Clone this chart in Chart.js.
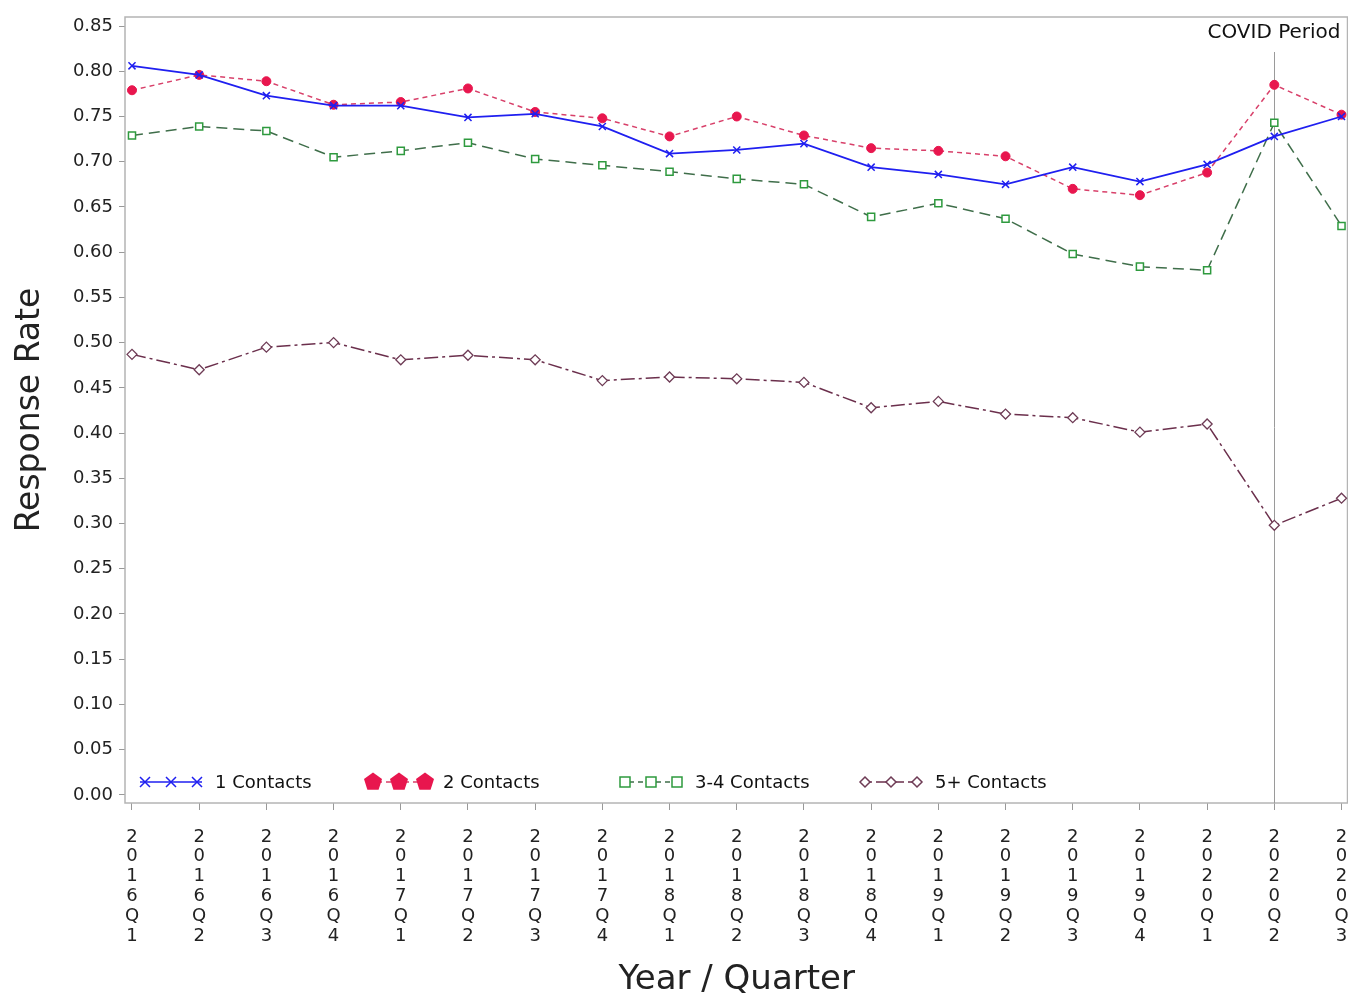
<!DOCTYPE html>
<html>
<head>
<meta charset="utf-8">
<script src="https://cdn.jsdelivr.net/npm/chart.js@4.4.1/dist/chart.umd.min.js"></script>
<style>
  html, body { margin: 0; padding: 0; background: #fff; overflow: hidden; }
  #wrap { width: 1355px; height: 997px; }
  canvas { display: block; }
</style>
</head>
<body>
<div id="wrap"><canvas id="rateChart" width="1355" height="997"></canvas></div>
<script>
// quarters on the x axis
const quarters = ['2016Q1','2016Q2','2016Q3','2016Q4','2017Q1','2017Q2','2017Q3','2017Q4',
  '2018Q1','2018Q2','2018Q3','2018Q4','2019Q1','2019Q2','2019Q3','2019Q4','2020Q1','2020Q2','2020Q3'];

const contacts1 = [0.806,0.796,0.773,0.762,0.762,0.749,0.753,0.739,0.709,0.713,0.720,0.694,0.686,0.675,0.694,0.678,0.697,0.728,0.750];
const contacts2 = [0.779,0.796,0.789,0.763,0.766,0.781,0.755,0.748,0.728,0.750,0.729,0.715,0.712,0.706,0.670,0.663,0.688,0.785,0.752];
const contacts34 = [0.729,0.739,0.734,0.705,0.712,0.721,0.703,0.696,0.689,0.681,0.675,0.639,0.654,0.637,0.598,0.584,0.580,0.743,0.629];
const contacts5 = [0.487,0.470,0.495,0.500,0.481,0.486,0.481,0.458,0.462,0.460,0.456,0.428,0.435,0.421,0.417,0.401,0.410,0.298,0.328];

const yTicks = [0,0.05,0.10,0.15,0.20,0.25,0.30,0.35,0.40,0.45,0.50,0.55,0.60,0.65,0.70,0.75,0.80,0.85];
const covidIndex = 17;
const covidLabel = 'COVID Period';

const FONT = 'DejaVu Sans';
const toXY = arr => arr.map((v, i) => ({ x: i, y: v }));

// --- marker drawing for the in-plot legend ---
function drawMarker(ctx, style, x, y, r, stroke, fill) {
  ctx.save();
  ctx.strokeStyle = stroke;
  ctx.fillStyle = fill;
  ctx.lineWidth = 1.5;
  ctx.beginPath();
  if (style === 'crossRot') {
    ctx.moveTo(x - r, y - r); ctx.lineTo(x + r, y + r);
    ctx.moveTo(x - r, y + r); ctx.lineTo(x + r, y - r);
    ctx.stroke();
  } else if (style === 'pentagon') {
    for (let k = 0; k < 5; k++) {
      const a = -Math.PI / 2 + k * 2 * Math.PI / 5;
      const px = x + r * Math.cos(a), py = y + r * Math.sin(a);
      k ? ctx.lineTo(px, py) : ctx.moveTo(px, py);
    }
    ctx.closePath(); ctx.fill();
  } else if (style === 'rect') {
    ctx.rect(x - r, y - r, 2 * r, 2 * r);
    ctx.fill(); ctx.stroke();
  } else if (style === 'rectRot') {
    ctx.moveTo(x, y - r); ctx.lineTo(x + r, y); ctx.lineTo(x, y + r); ctx.lineTo(x - r, y);
    ctx.closePath(); ctx.fill(); ctx.stroke();
  }
  ctx.restore();
}

const legendItems = [
  { text: '1 Contacts',   x: 140, style: 'crossRot', r: 5,   line: '#1f1ff0', stroke: '#1f1ff0', fill: '#1f1ff0', dash: [] },
  { text: '2 Contacts',   x: 368, style: 'pentagon', r: 9.5, line: '#d8406a', stroke: '#e8164e', fill: '#e8164e', dash: [5, 4] },
  { text: '3-4 Contacts', x: 620, style: 'rect',     r: 5,   line: '#3f6e4a', stroke: '#2e9a3e', fill: '#ffffff', dash: [5, 4] },
  { text: '5+ Contacts',  x: 860, style: 'rectRot',  r: 5,   line: '#6b2f4c', stroke: '#6e3b55', fill: '#ffffff', dash: [12, 4] }
];

const framePlugin = {
  id: 'frame',
  beforeDatasetsDraw(chart) {
    const { ctx, chartArea: a, scales } = chart;
    ctx.save();
    ctx.strokeStyle = '#b4b4b4';
    ctx.lineWidth = 1.5;
    ctx.strokeRect(a.left, a.top, a.right - a.left - 1, a.bottom - a.top);
    // COVID reference line
    const cx = Math.round(scales.x.getPixelForValue(covidIndex)) + 0.5;
    ctx.strokeStyle = '#9a9a9a';
    ctx.lineWidth = 1;
    ctx.beginPath();
    ctx.moveTo(cx, a.top + 35);
    ctx.lineTo(cx, a.bottom);
    ctx.stroke();
    ctx.restore();
  },
  afterDatasetsDraw(chart) {
    const { ctx, chartArea: a } = chart;
    ctx.save();
    ctx.fillStyle = '#111';
    ctx.font = '20px "' + FONT + '"';
    ctx.textAlign = 'right';
    ctx.textBaseline = 'middle';
    ctx.fillText(covidLabel, a.right - 8, 33);

    const ly = 782;
    ctx.font = '18px "' + FONT + '"';
    ctx.textAlign = 'left';
    legendItems.forEach(it => {
      ctx.strokeStyle = it.line;
      ctx.lineWidth = 1.5;
      ctx.setLineDash(it.dash);
      ctx.beginPath();
      ctx.moveTo(it.x, ly);
      ctx.lineTo(it.x + 62, ly);
      ctx.stroke();
      ctx.setLineDash([]);
      [5, 31, 57].forEach(dx => drawMarker(ctx, it.style, it.x + dx, ly, it.r, it.stroke, it.fill));
      ctx.fillStyle = '#111';
      ctx.fillText(it.text, it.x + 75, ly + 1);
    });
    ctx.restore();
  }
};

const ctx = document.getElementById('rateChart').getContext('2d');
new Chart(ctx, {
  type: 'line',
  data: {
    datasets: [
      {
        label: '1 Contacts',
        data: toXY(contacts1),
        borderColor: '#1f1ff0',
        borderWidth: 1.8,
        pointStyle: 'crossRot',
        pointRadius: 5,
        pointBorderColor: '#1f1ff0',
        pointBorderWidth: 1.5,
        tension: 0,
        order: 1
      },
      {
        label: '2 Contacts',
        data: toXY(contacts2),
        borderColor: '#d8406a',
        borderWidth: 1.5,
        borderDash: [5, 4],
        pointStyle: 'circle',
        pointRadius: 4.5,
        pointBackgroundColor: '#e8164e',
        pointBorderColor: '#e8164e',
        pointBorderWidth: 1,
        tension: 0,
        order: 2
      },
      {
        label: '3-4 Contacts',
        data: toXY(contacts34),
        borderColor: '#3f6e4a',
        borderWidth: 1.5,
        borderDash: [11, 6],
        pointStyle: 'rect',
        pointRadius: 5,
        pointBackgroundColor: '#ffffff',
        pointBorderColor: '#2e9a3e',
        pointBorderWidth: 1.5,
        tension: 0,
        order: 3
      },
      {
        label: '5+ Contacts',
        data: toXY(contacts5),
        borderColor: '#6b2f4c',
        borderWidth: 1.5,
        borderDash: [14, 4, 3, 4],
        pointStyle: 'rectRot',
        pointRadius: 5,
        pointBackgroundColor: '#ffffff',
        pointBorderColor: '#6e3b55',
        pointBorderWidth: 1.3,
        tension: 0,
        order: 4
      }
    ]
  },
  options: {
    responsive: false,
    animation: false,
    clip: false,
    layout: { padding: { top: 17, right: 0, bottom: 0, left: 0 } },
    plugins: {
      legend: { display: false },
      tooltip: { enabled: false }
    },
    scales: {
      x: {
        type: 'linear',
        min: -0.104,
        max: 18.104,
        afterBuildTicks: s => { s.ticks = quarters.map((_, i) => ({ value: i })); },
        afterFit: s => { s.height = 194; s.paddingLeft = 0; s.paddingRight = 0; },
        grid: { drawOnChartArea: false, tickLength: 7, color: '#999', tickColor: '#999' },
        border: { display: false },
        ticks: {
          autoSkip: false,
          maxRotation: 0,
          minRotation: 0,
          padding: 17,
          color: '#222',
          font: { family: FONT, size: 18, lineHeight: 1.1 },
          callback: v => quarters[v] ? quarters[v].split('') : ''
        },
        title: {
          display: true,
          text: 'Year / Quarter',
          color: '#222',
          font: { family: FONT, size: 34, lineHeight: 1 },
          padding: 0
        }
      },
      y: {
        min: -0.009,
        max: 0.86,
        afterBuildTicks: s => { s.ticks = yTicks.map(v => ({ value: v })); },
        afterFit: s => { s.width = 125; },
        grid: { drawOnChartArea: false, tickLength: 6, color: '#999', tickColor: '#999' },
        border: { display: false },
        ticks: {
          padding: 6,
          color: '#222',
          font: { family: FONT, size: 18 },
          callback: v => v.toFixed(2)
        },
        title: {
          display: true,
          text: 'Response Rate',
          color: '#222',
          font: { family: FONT, size: 33, lineHeight: 1.2 },
          padding: { top: 11, bottom: 0 }
        }
      }
    }
  },
  plugins: [framePlugin]
});
</script>
</body>
</html>
